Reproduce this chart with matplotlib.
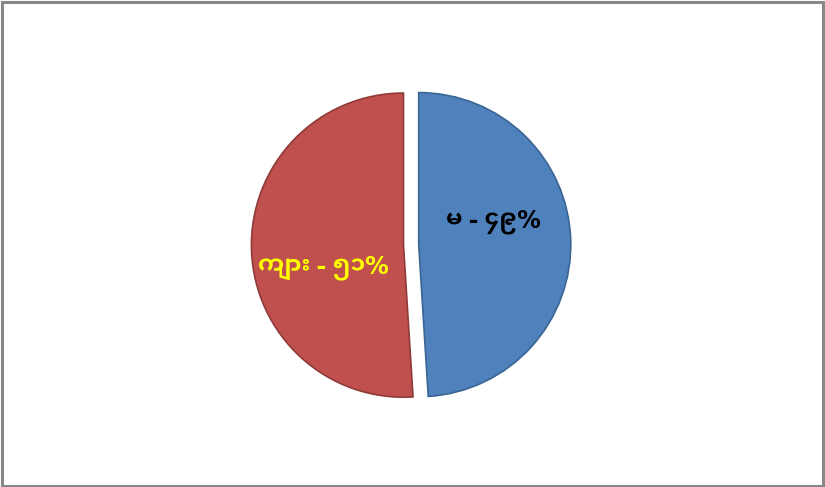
import matplotlib
matplotlib.use("Agg")
import matplotlib.pyplot as plt
from matplotlib import font_manager
from matplotlib.patches import Rectangle

# ---- data ----
categories = ["မ", "ကျား"]
values = [49, 51]
value_labels = ["မ - ၄၉%", "ကျား - ၅၁%"]
colors = ["#4F81BD", "#C0504D"]
edge_colors = ["#3A6594", "#8E3A38"]
label_colors = ["black", "#FFFF00"]

# find fonts that cover Myanmar script, prefer a bold face
candidates = []
try:
    from fontTools.ttLib import TTFont
    for f in font_manager.fontManager.ttflist:
        try:
            tt = TTFont(f.fname, fontNumber=0, lazy=True)
            cmap = tt.getBestCmap()
            if cmap and 0x1000 in cmap and 0x1049 in cmap:
                w = f.weight if isinstance(f.weight, int) else (700 if "bold" in str(f.weight).lower() else 400)
                candidates.append((w, f.name, f.fname))
        except Exception:
            pass
except Exception:
    pass
candidates.sort(key=lambda t: -t[0])
myanmar_family = candidates[0][1] if candidates else None
families = ([myanmar_family] if myanmar_family else []) + ["DejaVu Sans"]

fig = plt.figure(figsize=(8.25, 4.87), dpi=100)
fig.patches.append(Rectangle((0.002, 0.002), 0.996, 0.994, transform=fig.transFigure,
                             fill=False, edgecolor="#888888", linewidth=2.2))

ax = fig.add_axes([0.2771, 0.1224, 0.4424, 0.7495])
wedges, _ = ax.pie(values, colors=colors, startangle=90, counterclock=False,
                   explode=[0.05, 0.05],
                   wedgeprops=dict(linewidth=1.2))
for w, ec in zip(wedges, edge_colors):
    w.set_edgecolor(ec)
ax.set_xlim(-1.2, 1.2)
ax.set_ylim(-1.2, 1.2)
ax.set_aspect("equal")
ax.axis("off")

label_pos = [(0.54, 0.15), (-0.58, -0.15)]
for lbl, pos, c in zip(value_labels, label_pos, label_colors):
    ax.text(pos[0], pos[1], lbl, ha="center", va="center",
            fontsize=17, fontweight="bold", color=c, family=families)

fig.savefig("out.png", dpi=100)
